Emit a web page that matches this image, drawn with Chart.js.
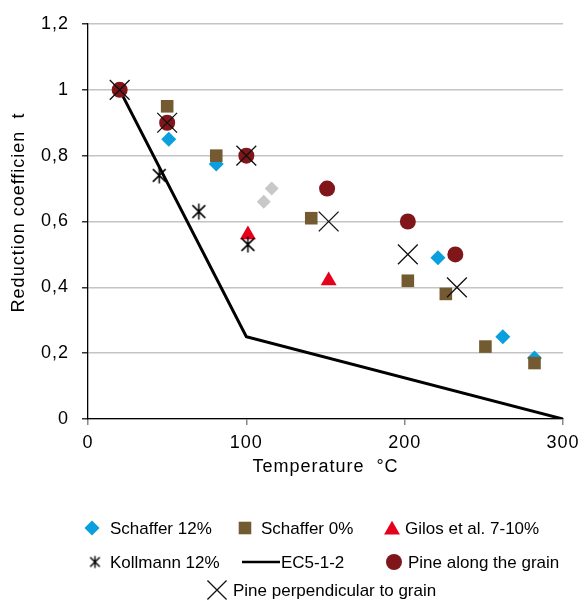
<!DOCTYPE html>
<html><head><meta charset="utf-8">
<script src="https://cdn.jsdelivr.net/npm/chart.js@4/dist/chart.umd.min.js"></script>
<style>html,body{margin:0;padding:0;background:#fff}</style>
</head><body>
<canvas id="c" width="587" height="600"></canvas>
<script>
// ---- data ----
const xTicks = [0, 100, 200, 300];
const yTicks = [0, 0.2, 0.4, 0.6, 0.8, 1, 1.2];
const schaffer12X = [51, 81, 221, 262, 282];
const schaffer12Y = [0.85, 0.775, 0.49, 0.25, 0.185];
const schaffer0X = [50, 81, 141, 202, 226, 251, 282];
const schaffer0Y = [0.95, 0.80, 0.61, 0.42, 0.38, 0.22, 0.17];
const gilosX = [101, 152];
const gilosY = [0.56, 0.42];
const kollmannX = [45, 70, 101];
const kollmannY = [0.74, 0.63, 0.53];
const ec5X = [20, 100, 300];
const ec5Y = [1, 0.25, 0];
const pineAlongX = [20, 50, 100, 151, 202, 232];
const pineAlongY = [1, 0.9, 0.8, 0.70, 0.60, 0.50];
const pinePerpX = [20, 50, 100, 152, 202, 233];
const pinePerpY = [1, 0.9, 0.8, 0.60, 0.50, 0.40];
const greyX = [111, 116];
const greyY = [0.66, 0.70];

const F = '"Liberation Sans", Arial, sans-serif';
const pts = (xs, ys) => xs.map((x, i) => ({x: x, y: ys[i]}));

function asterisk(h, lw) {
  const s = Math.ceil(h * 2 + 3);
  const c = document.createElement('canvas');
  c.width = s; c.height = s;
  const g = c.getContext('2d');
  const m = s / 2;
  g.strokeStyle = '#000'; g.lineWidth = lw;
  g.beginPath();
  g.moveTo(m, m - h); g.lineTo(m, m + h);
  const d = h * 0.8;
  g.moveTo(m - d, m - d); g.lineTo(m + d, m + d);
  g.moveTo(m + d, m - d); g.lineTo(m - d, m + d);
  g.stroke();
  return c;
}
const astBig = asterisk(8, 1.5);
const astSmall = asterisk(6, 1.4);

const datasets = [
  {label: 'Schaffer 12%', data: pts(schaffer12X, schaffer12Y), pointStyle: 'rectRot', pointRadius: 7.5,
   backgroundColor: '#0a9fdd', borderColor: '#0a9fdd', pointBorderWidth: 0, order: 6},
  {label: 'Schaffer 0%', data: pts(schaffer0X, schaffer0Y), pointStyle: 'rect', pointRadius: 8.9,
   backgroundColor: '#745a30', borderColor: '#745a30', pointBorderWidth: 0, order: 5},
  {label: 'Gilos et al. 7-10%', data: pts(gilosX, gilosY), pointStyle: 'triangle', pointRadius: 9.2,
   backgroundColor: '#e6001c', borderColor: '#e6001c', pointBorderWidth: 0, order: 4},
  {label: 'Kollmann 12%', data: pts(kollmannX, kollmannY), pointStyle: astBig, pointRadius: 8,
   backgroundColor: '#000', borderColor: '#000', pointBorderWidth: 1.5, order: 3},
  {label: 'EC5-1-2', data: pts(ec5X, ec5Y), showLine: true, pointRadius: 0, borderColor: '#000',
   backgroundColor: '#000', borderWidth: 3, order: 8},
  {label: 'Pine along the grain', data: pts(pineAlongX, pineAlongY), pointStyle: 'circle', pointRadius: 8,
   backgroundColor: '#80151a', borderColor: '#80151a', pointBorderWidth: 0, order: 2},
  {label: 'Pine perpendicular to grain', data: pts(pinePerpX, pinePerpY), pointStyle: 'crossRot', pointRadius: 14,
   backgroundColor: '#111', borderColor: '#111', pointBorderWidth: 1.3, order: 1},
  {label: '', data: pts(greyX, greyY), pointStyle: 'rectRot', pointRadius: 7,
   backgroundColor: '#c8c8c8', borderColor: '#c8c8c8', pointBorderWidth: 0, order: 7}
];

// legend layout (positions only)
const LEG = [
  {i: 0, mx: 92, y: 528, tx: 110},
  {i: 1, mx: 245, y: 528, tx: 261},
  {i: 2, mx: 392, y: 528, my: 530, tx: 405},
  {i: 3, mx: 95, y: 562, tx: 110, img: astSmall},
  {i: 4, mx: 261, y: 562, tx: 281, line: true},
  {i: 5, mx: 394, y: 562, tx: 408},
  {i: 6, mx: 217, y: 590, tx: 233, r: 13.5}
];

const legendPlugin = {
  id: 'customLegend',
  afterDraw(chart) {
    const ctx = chart.ctx;
    ctx.save();
    ctx.letterSpacing = '0px';
    LEG.forEach(it => {
      const ds = chart.data.datasets[it.i];
      const my = it.my || it.y;
      ctx.fillStyle = ds.backgroundColor;
      ctx.strokeStyle = ds.borderColor;
      if (it.line) {
        ctx.lineWidth = 2.5;
        ctx.beginPath(); ctx.moveTo(it.mx - 19, my); ctx.lineTo(it.mx + 19, my); ctx.stroke();
      } else {
        ctx.lineWidth = ds.pointBorderWidth || 0;
        Chart.helpers.drawPoint(ctx, {
          pointStyle: it.img || ds.pointStyle, radius: it.r || ds.pointRadius,
          rotation: 0, borderWidth: ds.pointBorderWidth || 0
        }, it.mx, my);
      }
      ctx.fillStyle = '#000';
      ctx.font = '17px ' + F;
      ctx.textBaseline = 'middle';
      ctx.textAlign = 'left';
      ctx.fillText(ds.label, it.tx, it.y + 1);
    });
    ctx.restore();
  }
};
const spacingPlugin = {
  id: 'spacing',
  beforeDraw(chart) { chart.ctx.letterSpacing = '1px'; }
};

new Chart(document.getElementById('c'), {
  type: 'scatter',
  data: {datasets: datasets},
  plugins: [spacingPlugin, legendPlugin],
  options: {
    responsive: false,
    animation: false,
    events: [],
    layout: {padding: {top: 24, right: 24, bottom: 122, left: 0}},
    plugins: {legend: {display: false}, tooltip: {enabled: false}},
    scales: {
      x: {
        type: 'linear', min: 0, max: 300,
        afterBuildTicks: s => { s.ticks = xTicks.map(v => ({value: v})); },
        ticks: {padding: 7, color: '#000', font: {size: 18, family: F}, maxRotation: 0},
        grid: {drawOnChartArea: false, tickLength: 6, tickColor: '#888', lineWidth: 1.5},
        border: {color: '#000', width: 1.3},
        title: {display: true, text: 'Temperature  °C', color: '#000', font: {size: 18, family: F}, padding: 0},
        afterFit: s => { s.height = 59; }
      },
      y: {
        type: 'linear', min: 0, max: 1.2,
        afterBuildTicks: s => { s.ticks = yTicks.map(v => ({value: v})); },
        ticks: {padding: 13, color: '#000', font: {size: 18, family: F},
          callback: v => String(Math.round(v * 10) / 10).replace('.', ',')},
        grid: {color: '#c4c4c4', lineWidth: 1.5, tickColor: '#333', tickLength: 6},
        border: {color: '#000', width: 1.3},
        title: {display: true, text: '   Reduction coefficien  t', color: '#000',
          font: {size: 18, family: F}, padding: {top: 8, bottom: 0}},
        afterFit: s => { s.width = 88; }
      }
    }
  }
});
</script>
</body></html>
